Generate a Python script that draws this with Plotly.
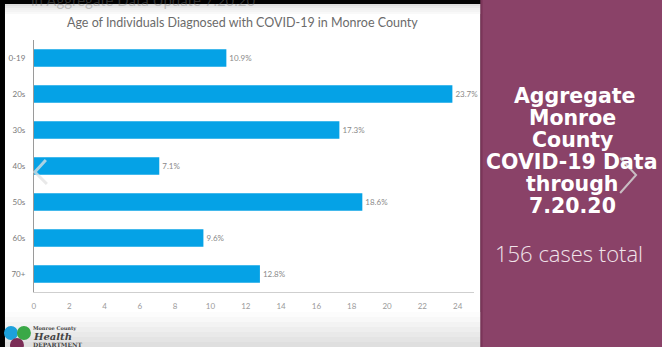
import plotly.graph_objects as go

# ---- data ----
age_groups = ["0-19", "20s", "30s", "40s", "50s", "60s", "70+"]
percent_of_cases = [10.9, 23.7, 17.3, 7.1, 18.6, 9.6, 12.8]
x_ticks = [0, 2, 4, 6, 8, 10, 12, 14, 16, 18, 20, 22, 24]
title_text = "Age of Individuals Diagnosed with COVID-19 in Monroe County"
panel_lines = ["Aggregate", "Monroe", "County", "COVID-19 Data", "through", "7.20.20"]
total_text = "156 cases total"

W, H = 662, 347


def px(x):
    return x / W


def py(y):
    return 1 - y / H


fig = go.Figure()
fig.add_trace(go.Bar(
    y=age_groups,
    x=percent_of_cases,
    orientation="h",
    marker=dict(color="#05A2E6", line=dict(width=0)),
    text=[f"{v}%" for v in percent_of_cases],
    textposition="outside",
    textfont=dict(family="Lato", size=8, color="#8a8a8a"),
    cliponaxis=False,
    hoverinfo="skip",
))

shapes = []
# white slide panel
shapes.append(dict(type="rect", xref="paper", yref="paper", x0=px(3), x1=px(480), y0=0, y1=py(4),
                   fillcolor="white", line=dict(width=0), layer="below"))
# top gradient
for i, c in enumerate(["#dcdcdc", "#e6e6e6", "#eeeeee", "#f4f4f4", "#f9f9f9"]):
    shapes.append(dict(type="rect", xref="paper", yref="paper", x0=px(3), x1=px(480),
                       y0=py(4 + 2 * (i + 1)), y1=py(4 + 2 * i), fillcolor=c, line=dict(width=0), layer="below"))
# bottom gradient
grads = ["#fcfcfc", "#f8f8f8", "#f3f3f3", "#eeeeee", "#e9e9e9", "#e4e4e4", "#dfdfdf"]
for i, c in enumerate(grads):
    y0 = 312 + i * 5
    shapes.append(dict(type="rect", xref="paper", yref="paper", x0=px(3), x1=px(480),
                       y0=py(y0 + 5), y1=py(y0), fillcolor=c, line=dict(width=0), layer="below"))
# purple panel
shapes.append(dict(type="rect", xref="paper", yref="paper", x0=px(480), x1=1, y0=0, y1=1,
                   fillcolor="#8A4268", line=dict(width=0), layer="below"))
shapes.append(dict(type="rect", xref="paper", yref="paper", x0=px(480), x1=px(482), y0=0, y1=1,
                   fillcolor="#7a3559", line=dict(width=0), layer="below"))
# chevrons
shapes.append(dict(type="path", xref="paper", yref="paper",
                   path=f"M {px(44)} {py(160)} L {px(33)} {py(172)} L {px(45)} {py(184)}",
                   line=dict(color="rgba(225,225,225,0.75)", width=3)))
shapes.append(dict(type="path", xref="paper", yref="paper",
                   path=f"M {px(620)} {py(158)} L {px(636)} {py(175)} L {px(620)} {py(193)}",
                   line=dict(color="rgba(210,210,210,0.85)", width=2)))
# logo circles
shapes.append(dict(type="circle", xref="paper", yref="paper", x0=px(2), x1=px(16), y0=py(340), y1=py(326),
                   fillcolor="#1da1dc", line=dict(width=0)))
shapes.append(dict(type="circle", xref="paper", yref="paper", x0=px(15), x1=px(29), y0=py(340), y1=py(326),
                   fillcolor="#3aa847", line=dict(width=0)))
shapes.append(dict(type="circle", xref="paper", yref="paper", x0=px(8), x1=px(22), y0=py(352), y1=py(338),
                   fillcolor="#7b2d56", line=dict(width=0)))

annotations = []
annotations.append(dict(text=title_text, xref="paper", yref="paper", x=px(241), y=py(22),
                        xanchor="center", yanchor="middle", showarrow=False,
                        font=dict(family="Lato", size=12.5, color="#6b6b6b")))
annotations.append(dict(text="in Aggregate Data Update 7.20.20", xref="paper", yref="paper",
                        x=px(27), y=py(0), xanchor="left", yanchor="middle", showarrow=False,
                        font=dict(family="Lato", size=15, color="rgba(120,120,120,0.4)")))
line_y = [96, 118, 140, 162, 184, 206]
line_x = [574, 572, 572, 571, 572, 572]
for t, xx, yy in zip(panel_lines, line_x, line_y):
    annotations.append(dict(text=f"<b>{t}</b>", xref="paper", yref="paper", x=px(xx), y=py(yy),
                            xanchor="center", yanchor="middle", showarrow=False,
                            font=dict(family="DejaVu Sans", size=20.5, color="white")))
annotations.append(dict(text=total_text, xref="paper", yref="paper", x=px(569), y=py(253),
                        xanchor="center", yanchor="middle", showarrow=False,
                        font=dict(family="Open Sans", size=22, color="#f1e4ea", weight=300)))
# logo text
annotations.append(dict(text="<b>Monroe County</b>", xref="paper", yref="paper", x=px(29), y=py(328),
                        xanchor="left", yanchor="middle", showarrow=False,
                        font=dict(family="DejaVu Serif", size=5, color="#444")))
annotations.append(dict(text="<b><i>Health</i></b>", xref="paper", yref="paper", x=px(29), y=py(336),
                        xanchor="left", yanchor="middle", showarrow=False,
                        font=dict(family="DejaVu Serif", size=10, color="#444")))
annotations.append(dict(text="<b>DEPARTMENT</b>", xref="paper", yref="paper", x=px(29), y=py(344),
                        xanchor="left", yanchor="middle", showarrow=False,
                        font=dict(family="DejaVu Serif", size=6, color="#444")))

fig.update_layout(
    width=W, height=H,
    margin=dict(l=0, r=0, t=0, b=0),
    paper_bgcolor="#000000",
    plot_bgcolor="rgba(0,0,0,0)",
    showlegend=False,
    bargap=0.52,
    shapes=shapes,
    annotations=annotations,
    xaxis=dict(domain=[px(32), px(473)], range=[0, 24.9], tickvals=x_ticks,
               showgrid=False, zeroline=False, showline=True, linecolor="#cfcfcf", linewidth=1,
               ticks="", tickfont=dict(family="Lato", size=8, color="#9a9a9a"), ticklabelstandoff=6),
    yaxis=dict(domain=[py(292), py(40)], categoryorder="array", categoryarray=age_groups[::-1],
               showgrid=False, zeroline=False, showline=True, linecolor="#9a9a9a", linewidth=1,
               ticks="", tickfont=dict(family="Lato", size=8, color="#7a7a7a"), ticklabelstandoff=6),
)

fig.write_html("out.html")
